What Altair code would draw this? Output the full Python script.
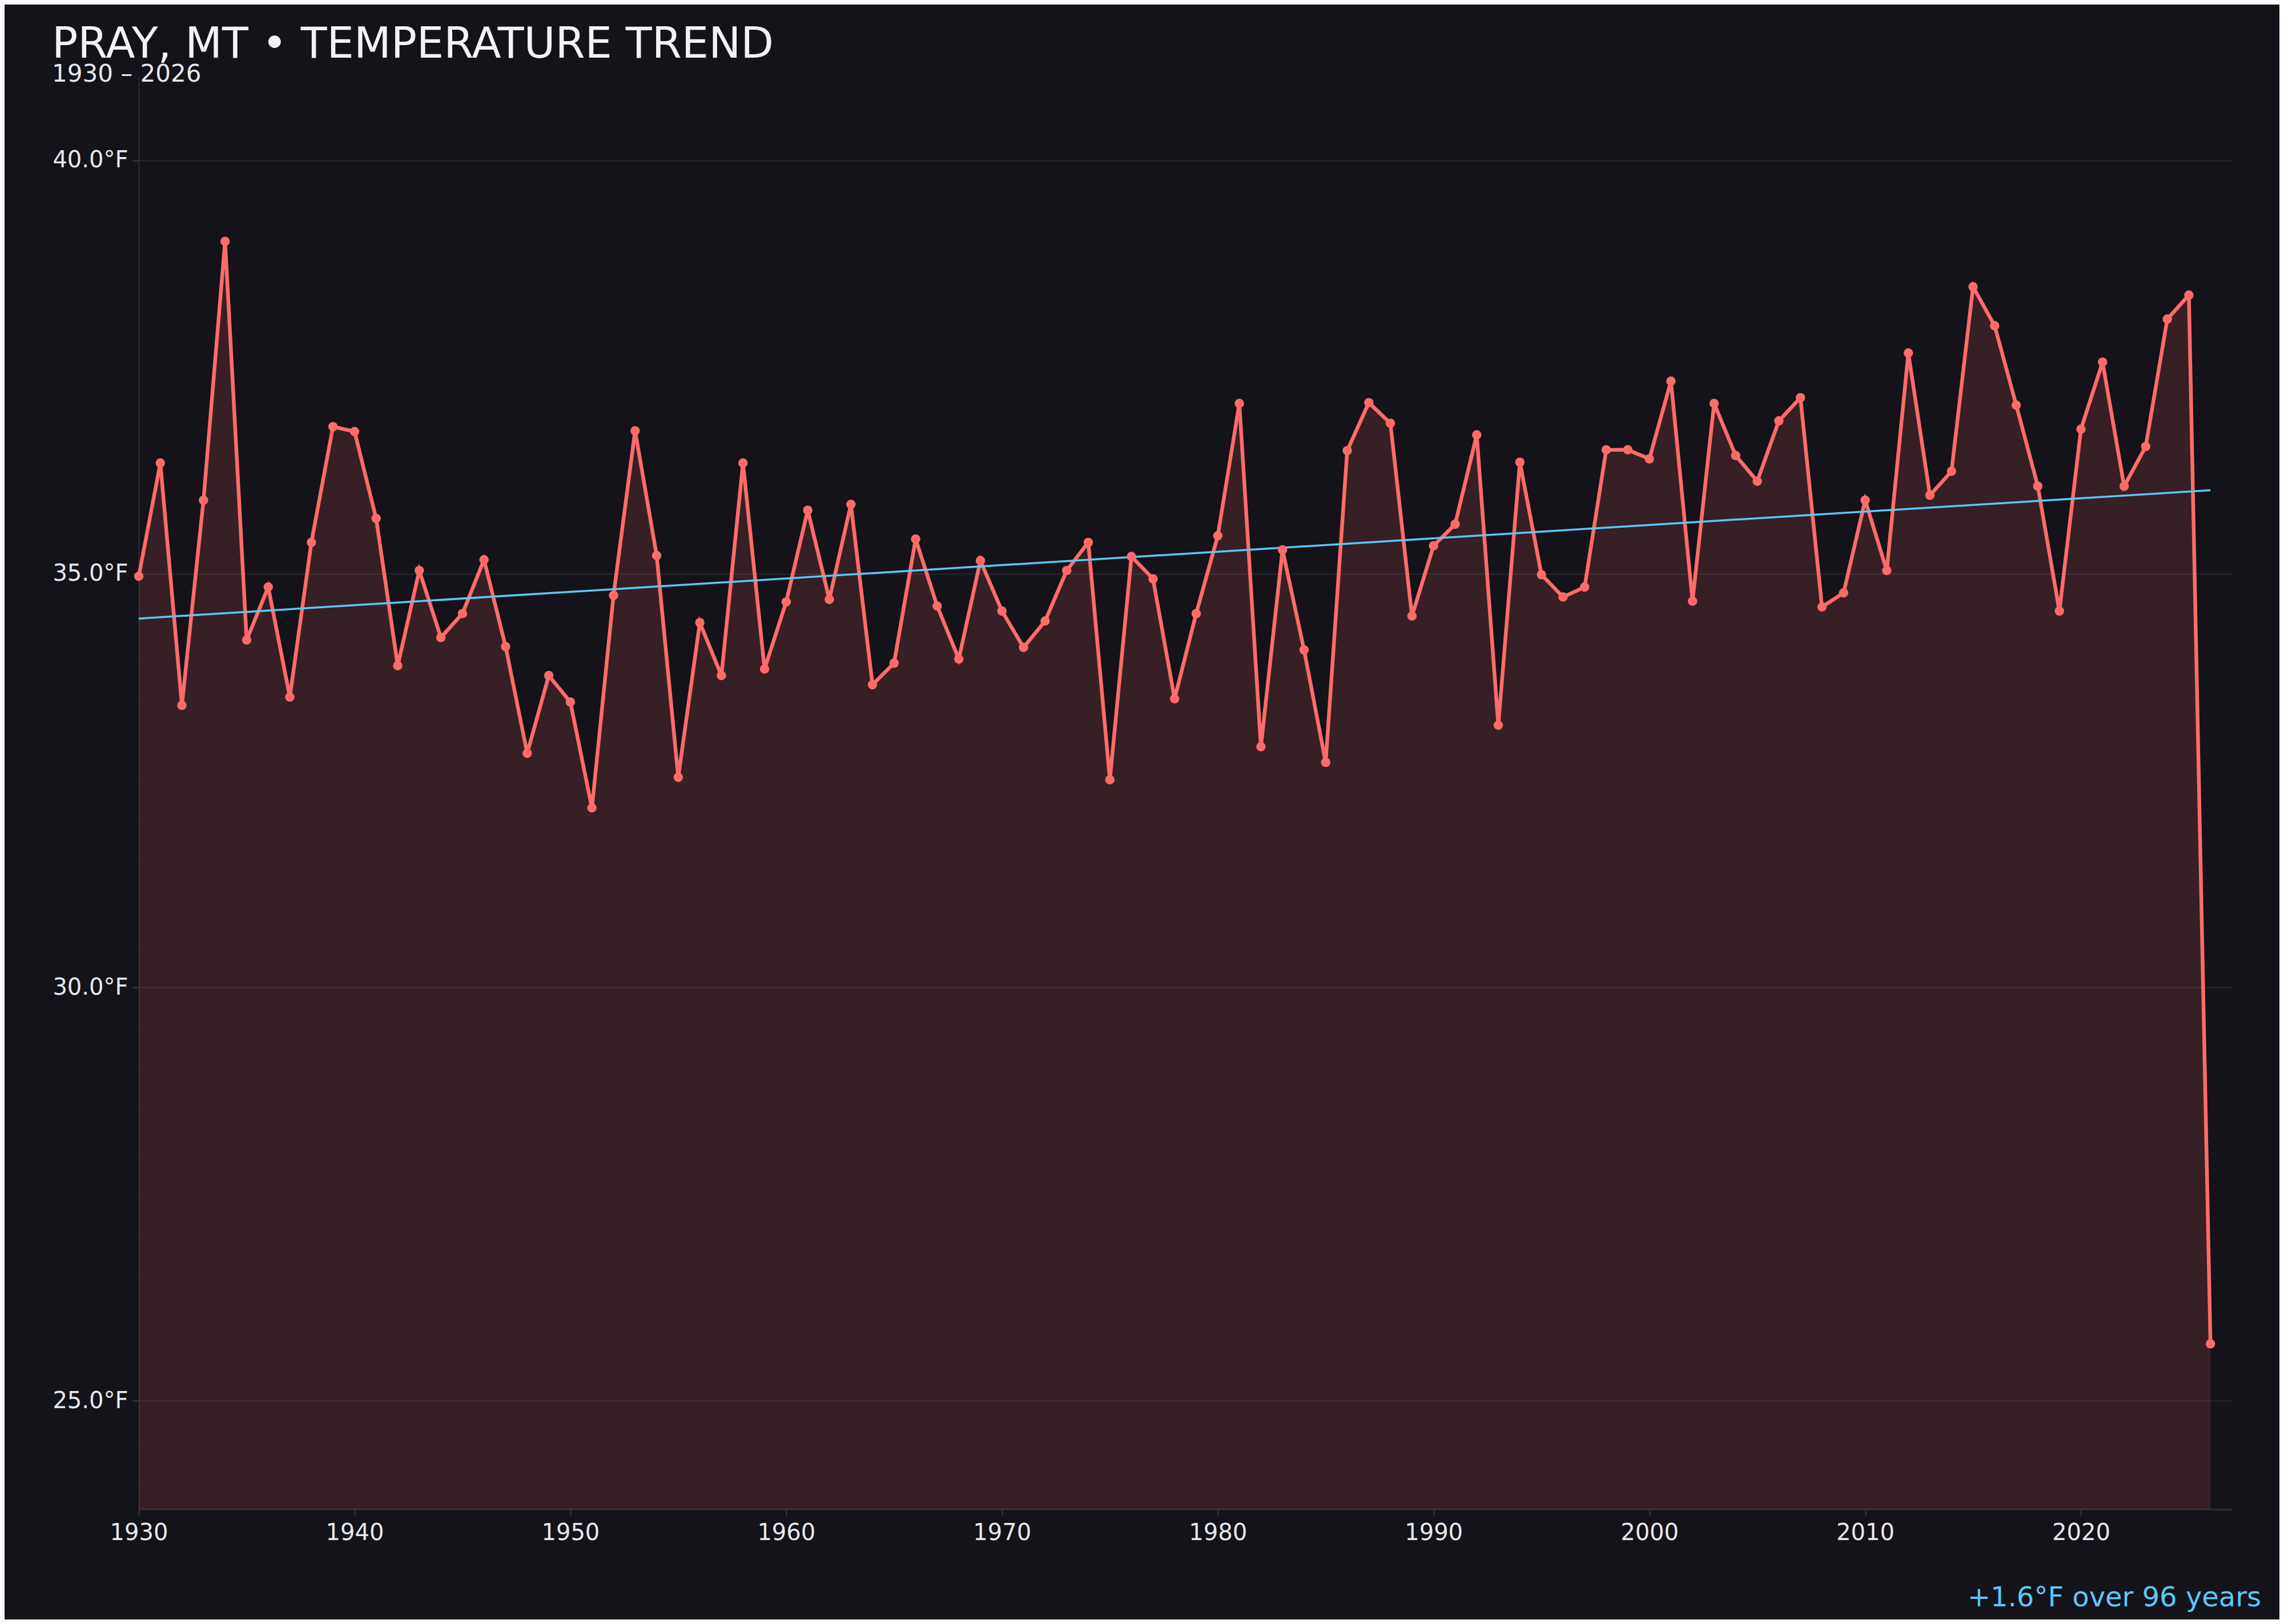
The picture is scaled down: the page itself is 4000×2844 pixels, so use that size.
import altair as alt
import numpy as np
import pandas as pd

# ---- data ----
years = list(range(1930, 2027))
temps = [
    34.97, 36.34, 33.41, 35.89, 39.02, 34.20, 34.84, 33.51, 35.38, 36.78,
    36.72, 35.67, 33.89, 35.04, 34.23, 34.52, 35.17, 34.12, 32.83, 33.77,
    33.45, 32.17, 34.74, 36.73, 35.22, 32.54, 34.41, 33.77, 36.34, 33.85,
    34.66, 35.77, 34.69, 35.84, 33.66, 33.92, 35.42, 34.61, 33.97, 35.16,
    34.55, 34.11, 34.43, 35.04, 35.38, 32.51, 35.21, 34.94, 33.49, 34.52,
    35.46, 37.06, 32.91, 35.29, 34.08, 32.72, 36.49, 37.07, 36.82, 34.49,
    35.34, 35.60, 36.68, 33.17, 36.35, 34.99, 34.72, 34.84, 36.50, 36.50,
    36.39, 37.33, 34.67, 37.06, 36.43, 36.12, 36.85, 37.13, 34.60, 34.77,
    35.89, 35.04, 37.67, 35.95, 36.24, 38.47, 38.00, 37.04, 36.06, 34.55,
    36.75, 37.56, 36.06, 36.54, 38.08, 38.37, 25.69,
]
x_ticks = [1930, 1940, 1950, 1960, 1970, 1980, 1990, 2000, 2010, 2020]
title_text = "PRAY, MT • TEMPERATURE TREND"
subtitle_text = "1930 – 2026"
note_text = "+1.6°F over 96 years"

# ---- derived ----
df = pd.DataFrame({"year": years, "temp": temps})
slope, intercept = np.polyfit(years, temps, 1)
trend = pd.DataFrame({"year": [years[0], years[-1]],
                      "temp": [slope * years[0] + intercept, slope * years[-1] + intercept]})
y_lo = min(temps) - 2
y_hi = max(temps) + 2
y_vals = [round(v, 1) for v in np.arange(24.0, 41.01, 0.5)]

W, H = 3666, 2510
BG = "#131319"
RED = "#ff6b6b"
BLUE = "#5cc8f7"
FONT = "DejaVu Sans"

xs = alt.Scale(domain=[1930, 2027], nice=False, zero=False)
ys = alt.Scale(domain=[y_lo, y_hi], nice=False, zero=False)

x_axis = alt.Axis(values=x_ticks, format="d", title=None, grid=False,
                  labelFontSize=40, labelColor="#e8e8ee", labelFont=FONT,
                  labelPadding=10, tickSize=11, tickColor="#3a3a44", tickWidth=2,
                  domainColor="#2c2c36", domainWidth=3, labelFlush=False)
y_axis = alt.Axis(values=y_vals, title=None,
                  labelExpr="datum.value % 5 === 0 ? format(datum.value, '.1f') + '°F' : ''",
                  labelFontSize=40, labelColor="#e8e8ee", labelFont=FONT, labelPadding=8,
                  tickSize=11, tickWidth=2,
                  tickColor={"condition": {"test": "datum.value % 5 === 0", "value": "#3a3a44"},
                             "value": "rgba(0,0,0,0)"},
                  grid=True,
                  gridWidth={"condition": {"test": "datum.value % 5 === 0", "value": 2.5},
                             "value": 1.5},
                  gridColor={"condition": {"test": "datum.value % 5 === 0", "value": "#25252e"},
                             "value": "#17171d"},
                  domainColor="#2c2c36", domainWidth=2)

base = alt.Chart(df)
area = base.mark_area(color=RED, opacity=0.15).encode(
    x=alt.X("year:Q", scale=xs, axis=x_axis),
    y=alt.Y("temp:Q", scale=ys, axis=y_axis),
    y2=alt.datum(y_lo),
)
line = base.mark_line(color=RED, strokeWidth=6.5).encode(
    x=alt.X("year:Q", scale=xs), y=alt.Y("temp:Q", scale=ys))
pts = base.mark_circle(color=RED, size=270, opacity=1).encode(
    x=alt.X("year:Q", scale=xs), y=alt.Y("temp:Q", scale=ys))
tline = alt.Chart(trend).mark_line(color=BLUE, strokeWidth=3.5).encode(
    x=alt.X("year:Q", scale=xs), y=alt.Y("temp:Q", scale=ys))

title = alt.Chart(pd.DataFrame({"t": [title_text]})).mark_text(
    align="left", baseline="alphabetic", fontSize=75, font=FONT, color="#f2f2f7"
).encode(text="t:N", x=alt.value(-152), y=alt.value(-32))
subtitle = alt.Chart(pd.DataFrame({"t": [subtitle_text]})).mark_text(
    align="left", baseline="alphabetic", fontSize=42, font=FONT, color="#e8e8ee"
).encode(text="t:N", x=alt.value(-152), y=alt.value(10))
note = alt.Chart(pd.DataFrame({"t": [note_text]})).mark_text(
    align="right", baseline="alphabetic", fontSize=48, font=FONT, color=BLUE
).encode(text="t:N", x=alt.value(3717), y=alt.value(2680))

chart = alt.layer(area, line, tline, pts, title, subtitle, note).properties(
    width=W, height=H,
    autosize=alt.AutoSizeParams(type="none"),
    padding={"left": 235, "top": 125, "right": 83, "bottom": 193},
    background=BG,
).configure_view(stroke=None)

chart.save("out.html", embed_options={"renderer": "svg", "actions": False})
